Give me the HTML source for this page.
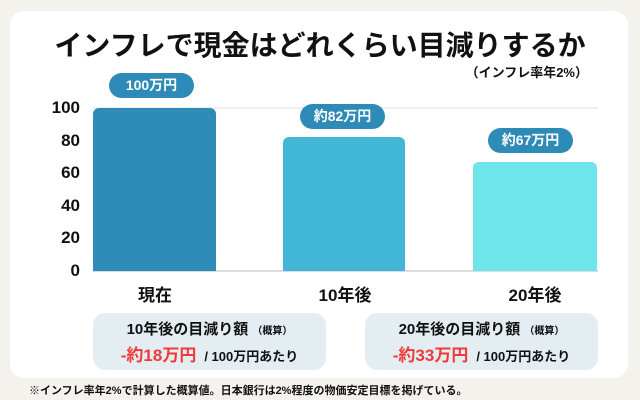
<!DOCTYPE html><html><head><meta charset="utf-8"><style>
body{margin:0;width:640px;height:400px;background:#f3f2ec;font-family:"Liberation Sans","Noto Sans CJK JP",sans-serif;position:relative;overflow:hidden;color:#111}
.a{position:absolute}
.card{left:10px;top:11px;width:618px;height:367px;background:#fff;border-radius:14px}
.pill{background:#2e8bb8;color:#fff;border-radius:13px;height:25px;line-height:25px;text-align:center;font-size:14px;font-weight:bold;width:85px}
.yl{right:560px;font-size:17px;font-weight:bold;transform:translateY(-50%)}
.xl{font-size:17px;font-weight:bold;width:160px;text-align:center;top:281px}
.box{background:#e4edf2;border-radius:12px;width:233px;height:57px;top:313px;text-align:center}
.b1{font-size:15px;font-weight:bold;margin-top:5px}
.b1 small{font-size:10px}
.b2{font-size:13px;font-weight:bold;margin-top:2px}
.b2 span{color:#f03a3a;font-size:17px;margin-right:8px}
</style></head><body>
<div class="a card"></div>
<div class="a" style="left:0;width:640px;top:24px;text-align:center;font-size:28px;font-weight:bold">インフレで現金はどれくらい目減りするか</div>
<div class="a" style="right:52px;top:62px;font-size:13px;font-weight:bold">（インフレ率年2%）</div>
<div class="a" style="left:93px;top:107px;width:505px;height:2px;background:#eee"></div>
<div class="a" style="left:93px;top:270px;width:505px;height:2px;background:#ddd"></div>
<div class="a" style="left:93px;top:108px;width:123px;height:163px;background:#2e8bb8;border-radius:6px 6px 0 0"></div>
<div class="a" style="left:283px;top:137px;width:122px;height:134px;background:#41b6d6;border-radius:6px 6px 0 0"></div>
<div class="a" style="left:473px;top:162px;width:124px;height:109px;background:#6ee5ea;border-radius:6px 6px 0 0"></div>
<div class="a pill" style="left:109px;top:73px">100万円</div>
<div class="a pill" style="left:300px;top:104px">約82万円</div>
<div class="a pill" style="left:488px;top:128px">約67万円</div>
<div class="a yl" style="top:108px">100</div>
<div class="a yl" style="top:141px">80</div>
<div class="a yl" style="top:173px">60</div>
<div class="a yl" style="top:206px">40</div>
<div class="a yl" style="top:238px">20</div>
<div class="a yl" style="top:271px">0</div>
<div class="a xl" style="left:75px">現在</div>
<div class="a xl" style="left:265px">10年後</div>
<div class="a xl" style="left:455px">20年後</div>
<div class="a box" style="left:93px"><div class="b1">10年後の目減り額 <small>（概算）</small></div><div class="b2"><span>-約18万円</span>/ 100万円あたり</div></div>
<div class="a box" style="left:365px"><div class="b1">20年後の目減り額 <small>（概算）</small></div><div class="b2"><span>-約33万円</span>/ 100万円あたり</div></div>
<div class="a" style="left:29px;top:382px;font-size:11px;font-weight:bold">※インフレ率年2%で計算した概算値。日本銀行は2%程度の物価安定目標を掲げている。</div>
</body></html>
